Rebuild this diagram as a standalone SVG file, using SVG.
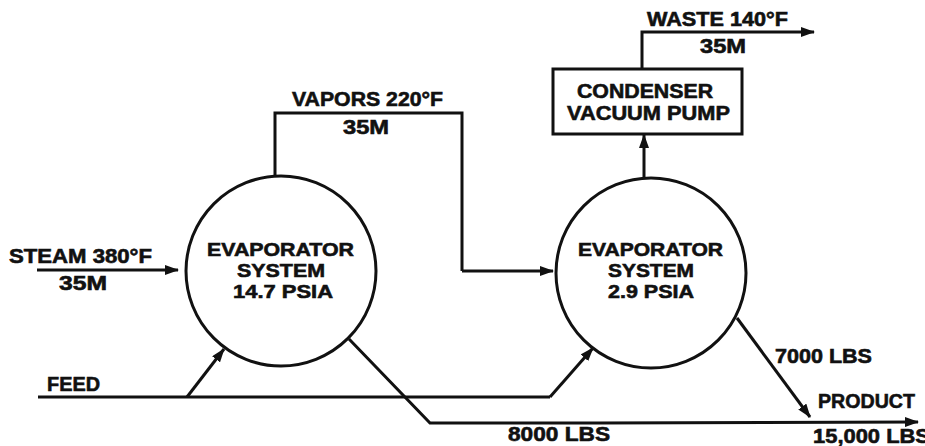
<svg xmlns="http://www.w3.org/2000/svg" width="925" height="446" viewBox="0 0 925 446">
<style>
.t{font-family:"Liberation Sans",Arial,Helvetica,sans-serif;font-weight:bold;font-size:20px;fill:#111;stroke:#111;stroke-width:0.6;}
.n{font-size:19px;}
.ln{fill:none;stroke:#111;stroke-width:3;stroke-linejoin:miter;}
.arr{marker-end:url(#ah);}
.shape{fill:#fff;stroke:#111;stroke-width:3;}
</style>
<defs>
<marker id="ah" markerUnits="userSpaceOnUse" markerWidth="14" markerHeight="10" refX="13" refY="5" orient="auto">
<path d="M0,0 L14,5 L0,10 z" fill="#111"/>
</marker>
</defs>
<rect width="925" height="446" fill="#fff"/>
<g id="connectors">
<polyline class="ln arr" points="37,270 178,270"/>
<polyline class="ln" points="275,176 275,113 462,113 462,271"/>
<polyline class="ln arr" points="462,271 553,271"/>
<polyline class="ln arr" points="644,178 644,135"/>
<polyline class="ln arr" points="642,68 642,32 814,32"/>
<polyline class="ln" points="38,397 550,397"/>
<polyline class="ln arr" points="187,397 224,349"/>
<polyline class="ln arr" points="550,397 593,348"/>
<polyline class="ln" points="349,339 430,423 600,423"/>
<polyline class="ln arr" points="600,423 918,422"/>
<polyline class="ln arr" points="737,318 810,417"/>
</g>
<g id="evaporator1">
<circle class="shape" cx="281" cy="271" r="95"/>
<text class="t n" x="207" y="256" textLength="147" lengthAdjust="spacingAndGlyphs">EVAPORATOR</text>
<text class="t n" x="237" y="277" textLength="88" lengthAdjust="spacingAndGlyphs">SYSTEM</text>
<text class="t n" x="233" y="298" textLength="100" lengthAdjust="spacingAndGlyphs">14.7 PSIA</text>
</g>
<g id="evaporator2">
<circle class="shape" cx="651" cy="273" r="95"/>
<text class="t n" x="578" y="256" textLength="145" lengthAdjust="spacingAndGlyphs">EVAPORATOR</text>
<text class="t n" x="608" y="277" textLength="86" lengthAdjust="spacingAndGlyphs">SYSTEM</text>
<text class="t n" x="608" y="298" textLength="86" lengthAdjust="spacingAndGlyphs">2.9 PSIA</text>
</g>
<g id="condenser">
<rect class="shape" x="553" y="69" width="189" height="65"/>
<text class="t" x="577" y="98" textLength="136" lengthAdjust="spacingAndGlyphs">CONDENSER</text>
<text class="t" x="567" y="120" textLength="163" lengthAdjust="spacingAndGlyphs">VACUUM PUMP</text>
</g>
<g id="labels">
<text class="t" x="9" y="263" textLength="143" lengthAdjust="spacingAndGlyphs">STEAM 380°F</text>
<text class="t" x="59" y="290" textLength="48" lengthAdjust="spacingAndGlyphs">35M</text>
<text class="t" x="47" y="391" textLength="53" lengthAdjust="spacingAndGlyphs">FEED</text>
<text class="t" x="292" y="106" textLength="151" lengthAdjust="spacingAndGlyphs">VAPORS 220°F</text>
<text class="t" x="343" y="134" textLength="46" lengthAdjust="spacingAndGlyphs">35M</text>
<text class="t" x="647" y="26" textLength="141" lengthAdjust="spacingAndGlyphs">WASTE 140°F</text>
<text class="t" x="700" y="53" textLength="46" lengthAdjust="spacingAndGlyphs">35M</text>
<text class="t" x="775" y="363" textLength="97" lengthAdjust="spacingAndGlyphs">7000 LBS</text>
<text class="t" x="818" y="408" textLength="97" lengthAdjust="spacingAndGlyphs">PRODUCT</text>
<text class="t" x="813" y="443" textLength="117" lengthAdjust="spacingAndGlyphs">15,000 LBS</text>
<text class="t" x="508" y="441" textLength="102" lengthAdjust="spacingAndGlyphs">8000 LBS</text>
</g>
</svg>
